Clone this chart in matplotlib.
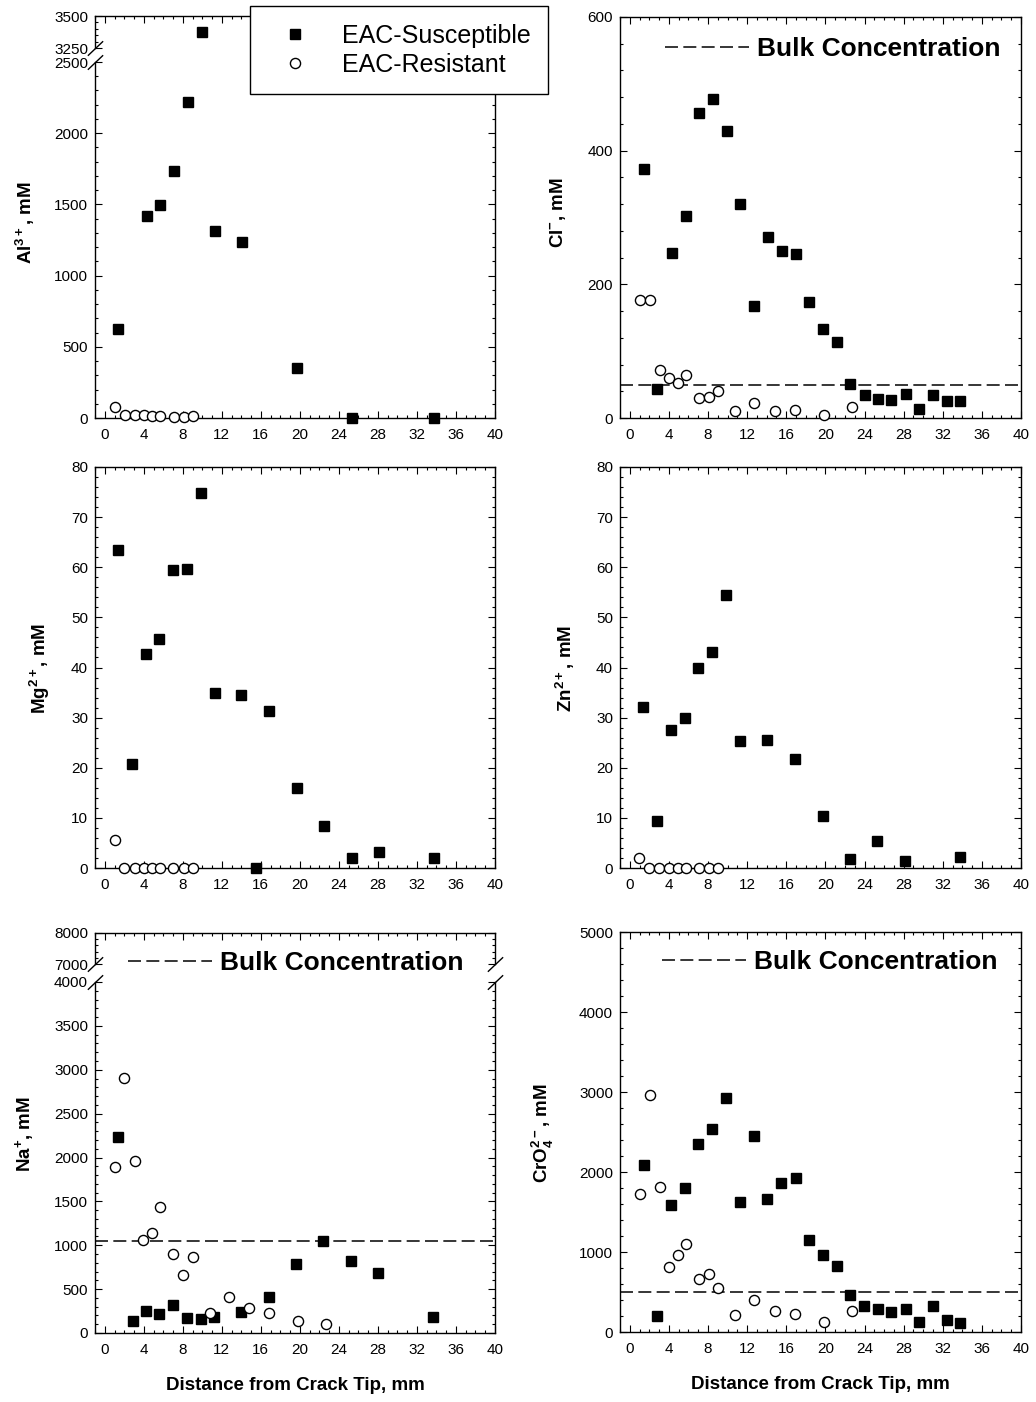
import matplotlib
matplotlib.use("Agg")
import matplotlib.pyplot as plt
from matplotlib.lines import Line2D
from matplotlib.ticker import MultipleLocator

plt.rcParams["font.family"] = ["Liberation Sans", "DejaVu Sans"]
plt.rcParams["mathtext.fontset"] = "custom"
plt.rcParams["mathtext.rm"] = "Liberation Sans"
plt.rcParams["mathtext.bf"] = "Liberation Sans:bold"
plt.rcParams["axes.linewidth"] = 1.0

# ---- data ----
# Al3+
al_sus_x = [1.4, 4.3, 5.7, 7.1, 8.5, 10.0, 11.3, 14.1, 19.7, 25.3, 33.7]
al_sus_y = [625, 1420, 1495, 1738, 2217, 3378, 1311, 1238, 351, 0, 0]
al_res_x = [1.0, 2.1, 3.05, 4.0, 4.85, 5.7, 7.05, 8.1, 9.0]
al_res_y = [78, 24, 21, 24, 14, 12, 7, 7, 12]

# Cl-
cl_sus_x = [1.5, 2.8, 4.3, 5.7, 7.1, 8.5, 9.9, 11.3, 12.7, 14.1, 15.55, 16.95,
            18.35, 19.8, 21.15, 22.55, 24.0, 25.35, 26.75, 28.2, 29.6, 31.0, 32.4, 33.8]
cl_sus_y = [372, 44, 247, 302, 456, 477, 430, 320, 168, 271, 250, 245,
            174, 133, 113, 51, 34, 28, 27, 36, 13, 35, 25, 25]
cl_res_x = [1.0, 2.1, 3.05, 4.0, 4.9, 5.7, 7.05, 8.1, 9.0, 10.8, 12.75, 14.85, 16.9, 19.85, 22.75]
cl_res_y = [176, 176, 72, 60, 53, 65, 30, 31, 40, 10, 22, 11, 12, 5, 16]
cl_bulk = 49

# Mg2+
mg_sus_x = [1.4, 2.8, 4.2, 5.6, 7.0, 8.4, 9.85, 11.25, 14.0, 15.5, 16.85, 19.7, 22.5, 25.3, 28.1, 33.7]
mg_sus_y = [63.4, 20.8, 42.7, 45.7, 59.4, 59.6, 74.8, 35.0, 34.6, 0, 31.3, 15.9, 8.4, 2.0, 3.1, 1.9]
mg_res_x = [1.0, 2.0, 3.05, 4.0, 4.85, 5.7, 7.0, 8.1, 9.0]
mg_res_y = [5.5, 0, 0, 0, 0, 0, 0, 0, 0]

# Zn2+
zn_sus_x = [1.4, 2.75, 4.2, 5.6, 7.0, 8.45, 9.85, 11.25, 14.05, 16.85, 19.75, 22.55, 25.3, 28.15, 33.8]
zn_sus_y = [32.2, 9.4, 27.6, 29.9, 40.0, 43.0, 54.5, 25.4, 25.6, 21.8, 10.3, 1.8, 5.3, 1.3, 2.1]
zn_res_x = [0.95, 2.0, 3.0, 4.0, 4.9, 5.7, 7.05, 8.1, 9.0]
zn_res_y = [2.0, 0, 0, 0, 0, 0, 0, 0, 0]

# Na+
na_sus_x = [1.4, 2.85, 4.2, 5.6, 7.0, 8.45, 9.85, 11.2, 14.0, 16.8, 19.65, 22.4, 25.2, 28.0, 33.65]
na_sus_y = [2229, 133, 246, 216, 322, 171, 159, 178, 239, 406, 789, 1043, 823, 682, 182]
na_res_x = [1.0, 2.0, 3.05, 3.95, 4.85, 5.7, 7.0, 8.05, 9.0, 10.75, 12.75, 14.75, 16.8, 19.85, 22.7]
na_res_y = [1896, 2908, 1964, 1062, 1134, 1433, 899, 656, 864, 224, 409, 288, 224, 140, 106]
na_bulk = 1050

# CrO4 2-
cr_sus_x = [1.45, 2.8, 4.25, 5.6, 7.0, 8.4, 9.85, 11.25, 12.65, 14.05, 15.5, 16.95,
            18.3, 19.75, 21.15, 22.55, 23.95, 25.35, 26.75, 28.2, 29.6, 31.0, 32.4, 33.8]
cr_sus_y = [2084, 204, 1585, 1797, 2354, 2537, 2924, 1622, 2454, 1668, 1859, 1922,
            1144, 965, 824, 466, 329, 287, 245, 291, 125, 320, 150, 112]
cr_res_x = [1.0, 2.1, 3.05, 4.0, 4.9, 5.7, 7.05, 8.1, 9.0, 10.8, 12.75, 14.85, 16.9, 19.85, 22.75]
cr_res_y = [1730, 2958, 1810, 815, 965, 1102, 666, 724, 549, 212, 403, 266, 225, 125, 258]
cr_bulk = 500

XLABEL = "Distance from Crack Tip, mm"

W, H = 1036, 1402
fig = plt.figure(figsize=(W / 100, H / 100), dpi=100)


def box(x0, y0, x1, y1):
    return [x0 / W, 1 - y1 / H, (x1 - x0) / W, (y1 - y0) / H]


def style(ax, ymajor, yminor, top=True, bottom=True):
    ax.set_xlim(-1, 40)
    ax.xaxis.set_major_locator(MultipleLocator(4))
    ax.xaxis.set_minor_locator(MultipleLocator(1))
    if ymajor is not None:
        ax.yaxis.set_major_locator(MultipleLocator(ymajor))
    ax.yaxis.set_minor_locator(MultipleLocator(yminor))
    ax.tick_params(which="both", direction="in", top=top, bottom=bottom,
                   left=True, right=True, labelbottom=bottom, labelsize=11)
    ax.tick_params(axis="x", pad=7.5)
    ax.tick_params(axis="y", pad=5)
    ax.tick_params(which="major", length=5, width=0.8)
    ax.tick_params(which="minor", length=2.5, width=0.8)


def points(ax, sx, sy, rx, ry, clip=False):
    ax.plot(sx, sy, "s", ms=7.3, color="k", clip_on=clip, zorder=3)
    ax.plot(rx, ry, "o", ms=7.3, mfc="white", mec="k", mew=1.0, clip_on=clip, zorder=4)


def bulk(ax, level):
    return ax.axhline(level, color="k", lw=1.1, dashes=(8.5, 3.5))


def bulk_legend(ax, line, x, y):
    ax.legend([line], ["Bulk Concentration"], loc="center left",
              bbox_to_anchor=(x / W, 1 - y / H), bbox_transform=fig.transFigure,
              frameon=False, borderpad=0, borderaxespad=0, handlelength=3.2,
              handletextpad=0.3, prop={"weight": "bold", "size": 19})


def breaks(ax_up, ax_lo, both=True):
    kw = dict(marker=[(-1, -0.95), (1, 0.95)], markersize=11, linestyle="none",
              color="k", mec="k", mew=1.0, clip_on=False)
    xs = [0, 1] if both else [0]
    ax_up.plot(xs, [0] * len(xs), transform=ax_up.transAxes, **kw)
    ax_lo.plot(xs, [1] * len(xs), transform=ax_lo.transAxes, **kw)
    ax_up.spines["bottom"].set_visible(False)
    ax_lo.spines["top"].set_visible(False)


def ylab(text, x, y):
    fig.text(x / W, 1 - y / H, text, rotation=90, ha="center", va="center",
             fontsize=13.5, fontweight="bold")


# ---- Al3+ (broken axis) ----
al_up = fig.add_axes(box(95, 16, 495, 48))
al_lo = fig.add_axes(box(95, 62, 495, 418))
points(al_up, al_sus_x, al_sus_y, al_res_x, al_res_y, clip=True)
points(al_lo, al_sus_x, al_sus_y, al_res_x, al_res_y)
al_up.set_ylim(3250, 3500)
al_lo.set_ylim(0, 2500)
style(al_up, None, 50, top=True, bottom=False)
al_up.set_yticks([3250, 3500])
style(al_lo, 500, 100, top=False)
breaks(al_up, al_lo)
ylab(r"Al$^{\mathbf{3+}}$, mM", 25, 222)

# ---- Cl- ----
ax = fig.add_axes(box(620, 17, 1021, 418))
points(ax, cl_sus_x, cl_sus_y, cl_res_x, cl_res_y)
ln = bulk(ax, cl_bulk)
ax.set_ylim(0, 600)
style(ax, 200, 40)
bulk_legend(ax, ln, 665, 49)
ylab(r"Cl$^{\mathbf{-}}$, mM", 559, 213)

# ---- Mg2+ ----
ax = fig.add_axes(box(95, 467, 495, 868))
points(ax, mg_sus_x, mg_sus_y, mg_res_x, mg_res_y)
ax.set_ylim(0, 80)
style(ax, 10, 2)
ylab(r"Mg$^{\mathbf{2+}}$, mM", 40, 668)

# ---- Zn2+ ----
ax = fig.add_axes(box(620, 467, 1021, 868))
points(ax, zn_sus_x, zn_sus_y, zn_res_x, zn_res_y)
ax.set_ylim(0, 80)
style(ax, 10, 2)
ylab(r"Zn$^{\mathbf{2+}}$, mM", 565, 668)

# ---- Na+ (broken axis) ----
na_up = fig.add_axes(box(95, 933, 495, 964))
na_lo = fig.add_axes(box(95, 982, 495, 1333))
points(na_up, na_sus_x, na_sus_y, na_res_x, na_res_y, clip=True)
points(na_lo, na_sus_x, na_sus_y, na_res_x, na_res_y)
ln = bulk(na_lo, na_bulk)
na_up.set_ylim(7000, 8000)
na_lo.set_ylim(0, 4000)
style(na_up, None, 200, top=True, bottom=False)
na_up.set_yticks([7000, 8000])
style(na_lo, 500, 100, top=False)
breaks(na_up, na_lo)
bulk_legend(na_up, ln, 128, 963)
na_lo.set_xlabel(XLABEL, fontsize=13.5, fontweight="bold", labelpad=14)
ylab(r"Na$^{\mathbf{+}}$, mM", 25, 1134)

# ---- CrO4 2- ----
ax = fig.add_axes(box(620, 932, 1021, 1332))
points(ax, cr_sus_x, cr_sus_y, cr_res_x, cr_res_y)
ln = bulk(ax, cr_bulk)
ax.set_ylim(0, 5000)
style(ax, 1000, 200)
bulk_legend(ax, ln, 662, 962)
ax.set_xlabel(XLABEL, fontsize=13.5, fontweight="bold", labelpad=14)
ylab(r"CrO$_{\mathbf{4}}^{\mathbf{2-}}$, mM", 543, 1133)

# ---- shared legend ----
handles = [Line2D([], [], ls="none", marker="s", ms=7.3, color="k"),
           Line2D([], [], ls="none", marker="o", ms=7.3, mfc="white", mec="k", mew=1.0)]
leg = fig.legend(handles, ["EAC-Susceptible", "EAC-Resistant"], loc="upper left",
                 bbox_to_anchor=(250 / W, 1 - 6 / H), fontsize=18, fancybox=False,
                 edgecolor="k", framealpha=1, borderpad=0.7, labelspacing=0.2,
                 handlelength=2.2, handletextpad=0.78, borderaxespad=0)
leg.get_frame().set_linewidth(1.0)

fig.savefig("out.png", dpi=100)
